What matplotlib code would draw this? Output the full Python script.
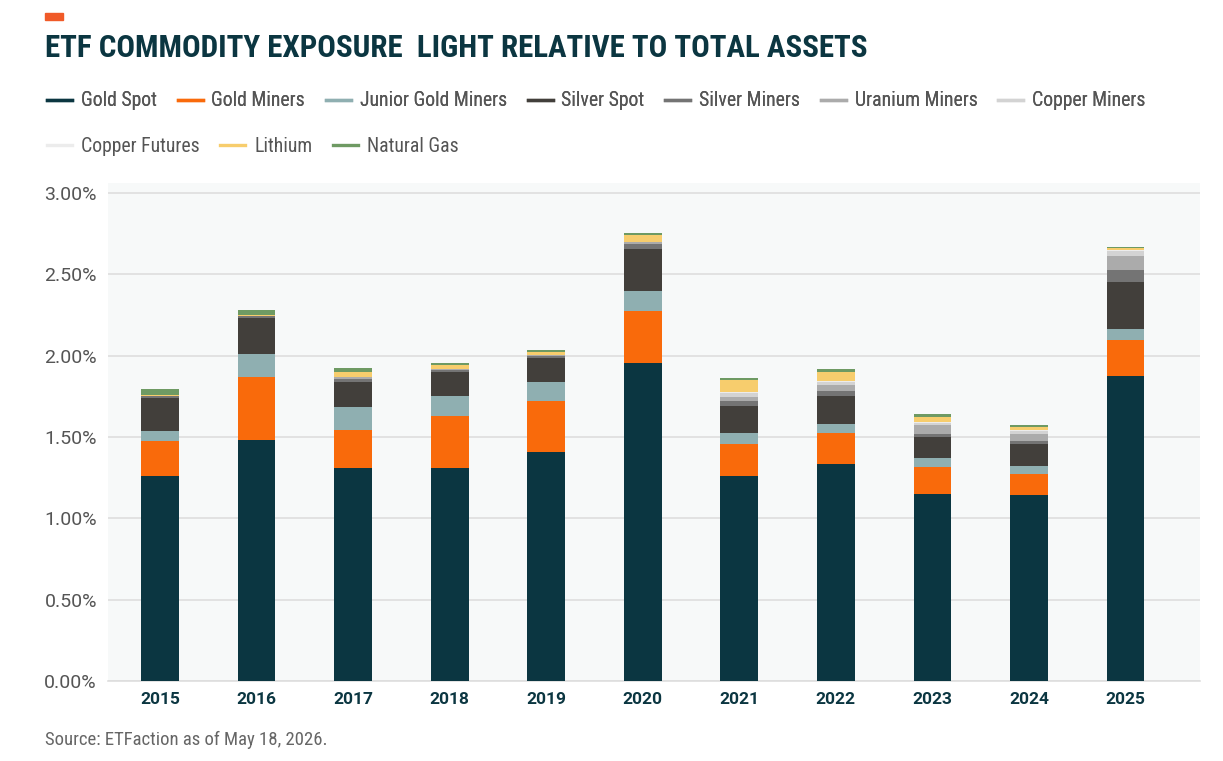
import matplotlib

matplotlib.use("Agg")
import matplotlib.pyplot as plt
from matplotlib import font_manager
import numpy as np

years = ["2015", "2016", "2017", "2018", "2019", "2020",
         "2021", "2022", "2023", "2024", "2025"]

# exposure as % of total assets
gold_spot = [1.260, 1.480, 1.310, 1.310, 1.410, 1.957, 1.264, 1.332, 1.148, 1.145, 1.875]
gold_miners = [0.215, 0.390, 0.233, 0.319, 0.311, 0.319, 0.195, 0.193, 0.169, 0.130, 0.221]
junior_gold_miners = [0.065, 0.140, 0.140, 0.125, 0.119, 0.121, 0.065, 0.053, 0.054, 0.050, 0.070]
silver_spot = [0.200, 0.220, 0.157, 0.147, 0.148, 0.262, 0.169, 0.176, 0.127, 0.130, 0.287]
silver_miners = [0.012, 0.015, 0.015, 0.012, 0.012, 0.030, 0.028, 0.027, 0.020, 0.020, 0.074]
uranium_miners = [0.000, 0.000, 0.012, 0.008, 0.008, 0.010, 0.027, 0.037, 0.056, 0.045, 0.086]
copper_miners = [0.000, 0.000, 0.000, 0.000, 0.000, 0.000, 0.024, 0.020, 0.015, 0.020, 0.030]
copper_futures = [0.000, 0.000, 0.000, 0.000, 0.000, 0.000, 0.005, 0.005, 0.005, 0.005, 0.010]
lithium = [0.008, 0.008, 0.034, 0.022, 0.016, 0.041, 0.076, 0.057, 0.031, 0.015, 0.008]
natural_gas = [0.035, 0.030, 0.027, 0.012, 0.010, 0.012, 0.011, 0.021, 0.016, 0.015, 0.008]

series = [
    ("Gold Spot", gold_spot, "#0b3641"),
    ("Gold Miners", gold_miners, "#f96a0b"),
    ("Junior Gold Miners", junior_gold_miners, "#8fafb1"),
    ("Silver Spot", silver_spot, "#423f3b"),
    ("Silver Miners", silver_miners, "#747474"),
    ("Uranium Miners", uranium_miners, "#ababab"),
    ("Copper Miners", copper_miners, "#d3d3d3"),
    ("Copper Futures", copper_futures, "#ececec"),
    ("Lithium", lithium, "#f7cd6d"),
    ("Natural Gas", natural_gas, "#6e9a63"),
]


def pick_font(cands):
    for c in cands:
        try:
            font_manager.findfont(font_manager.FontProperties(family=c),
                                  fallback_to_default=False)
            return c
        except ValueError:
            continue
    return "DejaVu Sans"


COND = pick_font(["Roboto Condensed", "Liberation Sans Narrow", "Roboto", "Lato"])
REG = pick_font(["Roboto", "Lato", "Open Sans"])
plt.rcParams["font.family"] = [COND, "DejaVu Sans"]

TEAL = "#0b3641"
GREY_TXT = "#555555"

fig = plt.figure(figsize=(12.23, 7.61), dpi=100)
ax = fig.add_axes([0.0883, 0.105, 0.8927, 0.654])
ax.set_facecolor("#f7f9f9")

x = np.arange(len(years))
bottom = np.zeros(len(years))
handles = []
for name, vals, color in series:
    vals = np.array(vals)
    ax.bar(x, vals, width=0.39, bottom=bottom, color=color, linewidth=0, zorder=3)
    bottom += vals
    h, = ax.plot([], [], color=color, lw=2.4, label=name)
    handles.append(h)

ax.set_xlim(-0.54, 10.77)
ax.set_ylim(0, 3.06)
yt = np.arange(0, 3.01, 0.5)
ax.set_yticks(yt)
ax.set_yticklabels([f"{v:.2f}%" for v in yt], family=[REG, "DejaVu Sans"])
ax.yaxis.grid(True, color="#dedede", lw=1.2, zorder=0)
ax.set_axisbelow(True)
ax.set_xticks(x)
ax.set_xticklabels(years, fontweight="bold", color=TEAL, fontsize=12.5,
                   family=[REG, "DejaVu Sans"])
ax.tick_params(axis="both", length=0)
ax.tick_params(axis="y", labelsize=14, labelcolor=GREY_TXT, pad=8)
ax.tick_params(axis="x", pad=8)
for s in ["top", "right", "left"]:
    ax.spines[s].set_visible(False)
ax.spines["bottom"].set_color("#dedede")
ax.spines["bottom"].set_linewidth(1.2)

# title block
fig.patches.append(plt.Rectangle((45 / 1223, 1 - 20 / 761), 18 / 1223, 7 / 761,
                                 transform=fig.transFigure, color="#f05a28"))
fig.text(45 / 1223, 1 - 48 / 761, "ETF COMMODITY EXPOSURE  LIGHT RELATIVE TO TOTAL ASSETS",
         fontsize=22.3, fontweight="bold", color=TEAL, va="center", ha="left")

# legend in two flowing rows
leg_kw = dict(frameon=False, loc="center left", fontsize=14.2, labelcolor=GREY_TXT,
              handlelength=1.27, handletextpad=0.45, columnspacing=1.05, borderpad=0,
              borderaxespad=0)
leg1 = fig.legend(handles=handles[:7], ncol=7,
                  bbox_to_anchor=(47 / 1223, 1 - 101 / 761), **leg_kw)
fig.add_artist(leg1)
fig.legend(handles=handles[7:], ncol=3,
           bbox_to_anchor=(47 / 1223, 1 - 146 / 761), **leg_kw)

fig.text(45 / 1223, 1 - 740 / 761, "Source: ETFaction as of May 18, 2026.",
         fontsize=13.5, color="#666666", va="center", ha="left")

fig.savefig("out.png", dpi=100)
